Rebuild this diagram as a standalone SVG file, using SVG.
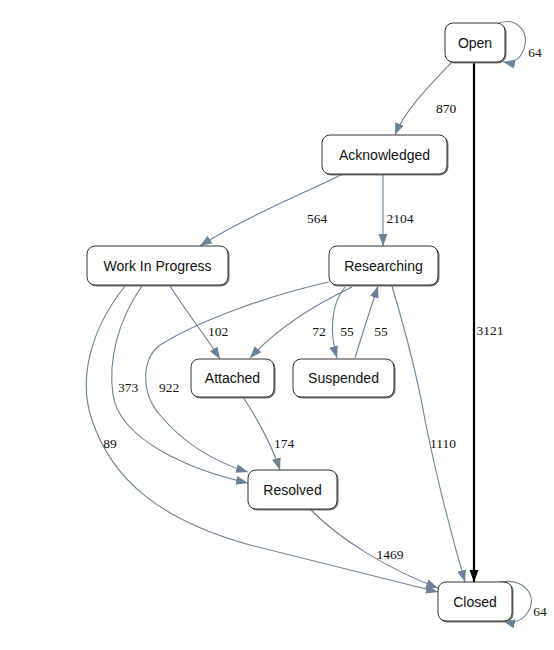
<svg xmlns="http://www.w3.org/2000/svg" width="554" height="650" viewBox="0 0 554 650">
<defs>
<style>
.node rect.sh{fill:#777;stroke:#777;stroke-width:1}
.node rect.bx{fill:#fff;stroke:#333;stroke-width:1}
.node text{font-family:"Liberation Sans",Arial,sans-serif;font-size:14px;fill:#111;text-anchor:middle;dominant-baseline:central}
.e{fill:none;stroke:#6f8196;stroke-width:1.1;marker-end:url(#arr)}
.thick{fill:none;stroke:#000;stroke-width:2.2;marker-end:url(#arrb)}
.lbl{font-family:"Liberation Serif","Times New Roman",serif;font-size:13.5px;fill:#111;text-anchor:middle;dominant-baseline:central}
</style>
<marker id="arr" markerUnits="userSpaceOnUse" markerWidth="12" markerHeight="10" viewBox="0 0 12 10" refX="12" refY="5" orient="auto"><path d="M0,0.5 L12,5 L0,9.5 Z" fill="#6f8196"/></marker>
<marker id="arrb" markerUnits="userSpaceOnUse" markerWidth="12" markerHeight="10" viewBox="0 0 12 10" refX="12" refY="5" orient="auto"><path d="M0,0.5 L12,5 L0,9.5 Z" fill="#000"/></marker>
</defs>
<rect width="554" height="650" fill="#fff"/>
<g id="edges">
<path class="e" d="M497,24 C515,16 528,30 525,45 C522,58 515,64 503,62"/>
<path class="e" d="M452,62 C430,85 405,110 395,135"/>
<path class="thick" d="M474,62 L474,582"/>
<path class="e" d="M343,174 C300,195 240,220 200,246"/>
<path class="e" d="M383,174 L383,246"/>
<path class="e" d="M170,286 C185,310 205,335 220,359"/>
<path class="e" d="M142,286 C118,320 108,360 113,395 C120,440 190,470 248,483"/>
<path class="e" d="M125,286 C90,330 78,380 92,420 C112,480 160,520 250,545 C330,565 390,580 438,592"/>
<path class="e" d="M329,282 C270,295 200,320 160,345 C140,360 142,395 160,415 C185,445 215,462 248,472"/>
<path class="e" d="M352,287 C325,300 280,325 250,358"/>
<path class="e" d="M345,287 C330,305 330,335 337,358"/>
<path class="e" d="M355,358 C362,335 370,310 378,286"/>
<path class="e" d="M392,286 C405,330 418,380 425,420 C435,470 450,530 465,582"/>
<path class="e" d="M243,397 C255,415 272,445 280,470"/>
<path class="e" d="M310,509 C340,540 390,570 438,588"/>
<path class="e" d="M500,582 C525,578 535,595 530,608 C525,620 515,624 503,621"/>
</g>
<g id="labels">
<text class="lbl" x="535" y="52">64</text>
<text class="lbl" x="446" y="108">870</text>
<text class="lbl" x="490" y="330">3121</text>
<text class="lbl" x="317" y="218">564</text>
<text class="lbl" x="400" y="218">2104</text>
<text class="lbl" x="218" y="331">102</text>
<text class="lbl" x="319" y="331">72</text>
<text class="lbl" x="347" y="331">55</text>
<text class="lbl" x="381" y="331">55</text>
<text class="lbl" x="128" y="387">373</text>
<text class="lbl" x="169" y="387">922</text>
<text class="lbl" x="110" y="443">89</text>
<text class="lbl" x="284" y="443">174</text>
<text class="lbl" x="443" y="443">1110</text>
<text class="lbl" x="390" y="554">1469</text>
<text class="lbl" x="540" y="611">64</text>
</g>
<g id="open" class="node"><rect class="sh" x="446" y="24" width="60" height="39" rx="8"/><rect class="bx" x="445" y="23" width="60" height="39" rx="8"/><text x="475" y="43">Open</text></g>
<g id="acknowledged" class="node"><rect class="sh" x="323" y="136" width="125" height="39" rx="8"/><rect class="bx" x="322" y="135" width="125" height="39" rx="8"/><text x="384.5" y="155">Acknowledged</text></g>
<g id="wip" class="node"><rect class="sh" x="88" y="247" width="141" height="39" rx="8"/><rect class="bx" x="87" y="246" width="141" height="39" rx="8"/><text x="157.5" y="266">Work In Progress</text></g>
<g id="researching" class="node"><rect class="sh" x="330" y="247" width="109" height="39" rx="8"/><rect class="bx" x="329" y="246" width="109" height="39" rx="8"/><text x="383.5" y="266">Researching</text></g>
<g id="attached" class="node"><rect class="sh" x="192" y="360" width="83" height="38" rx="8"/><rect class="bx" x="191" y="359" width="83" height="38" rx="8"/><text x="232.5" y="378">Attached</text></g>
<g id="suspended" class="node"><rect class="sh" x="294" y="360" width="101" height="38" rx="8"/><rect class="bx" x="293" y="359" width="101" height="38" rx="8"/><text x="343.5" y="378">Suspended</text></g>
<g id="resolved" class="node"><rect class="sh" x="249" y="471" width="89" height="39" rx="8"/><rect class="bx" x="248" y="470" width="89" height="39" rx="8"/><text x="292.5" y="490">Resolved</text></g>
<g id="closed" class="node"><rect class="sh" x="439" y="583" width="74" height="39" rx="8"/><rect class="bx" x="438" y="582" width="74" height="39" rx="8"/><text x="475" y="602">Closed</text></g>
</svg>
